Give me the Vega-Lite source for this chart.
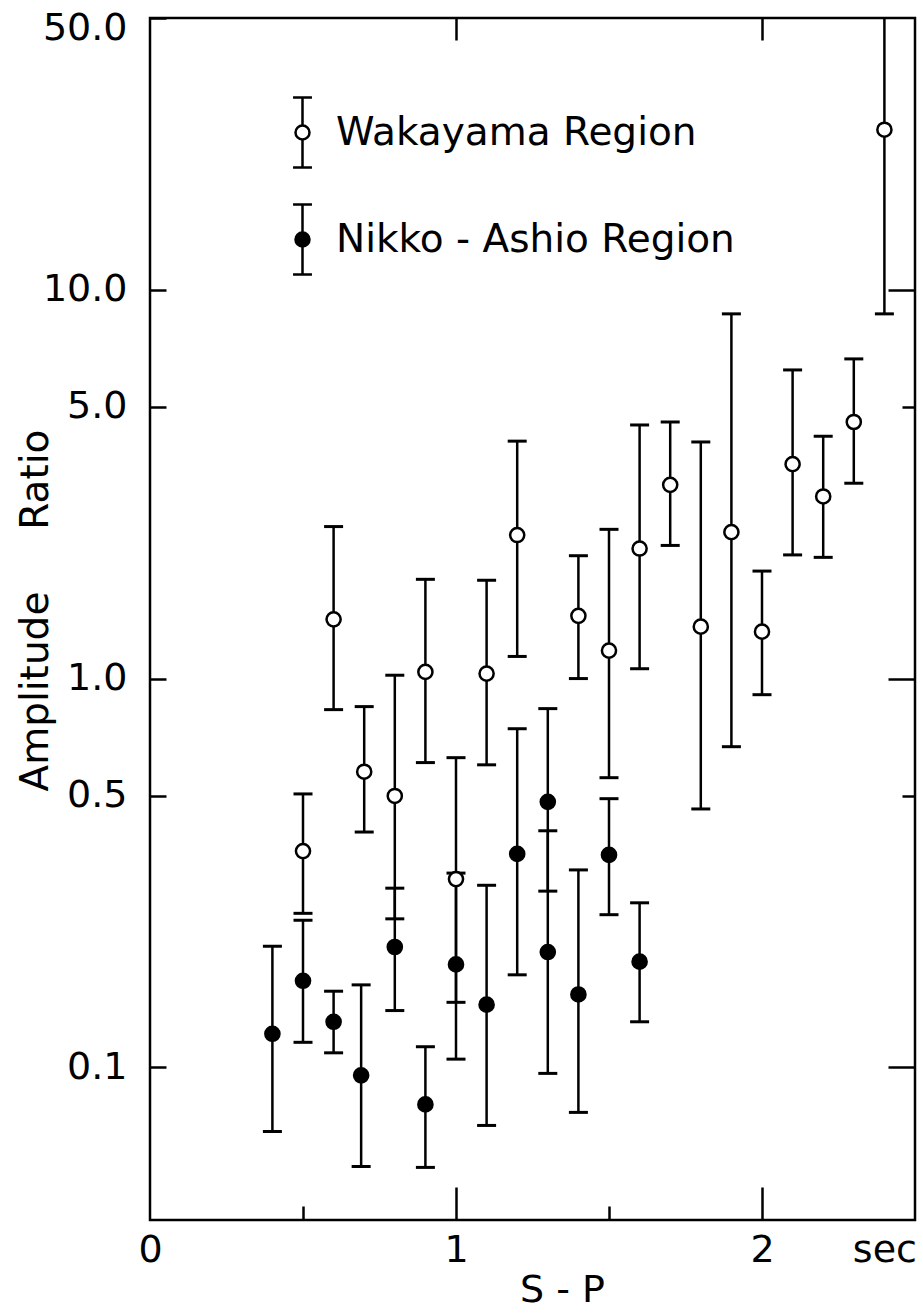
{
  "$schema": "https://vega.github.io/schema/vega-lite/v6.json",
  "width": 765,
  "height": 1202,
  "autosize": {"type": "none"},
  "padding": {"left": 150, "top": 18, "right": 8, "bottom": 93},
  "background": "white",
  "config": {
    "view": {"stroke": "black", "strokeWidth": 2.5},
    "axis": {
      "grid": false,
      "domain": false,
      "labelFont": "DejaVu Sans",
      "labelFontSize": 38,
      "labelColor": "black",
      "titleFont": "DejaVu Sans",
      "titleFontSize": 39,
      "titleFontWeight": "normal",
      "titleColor": "black",
      "tickColor": "black",
      "tickWidth": 2.5,
      "labelFlush": false,
      "labelOverlap": false,
      "labelBound": false
    },
    "legend": {
      "labelFont": "DejaVu Sans",
      "labelFontSize": 39,
      "labelColor": "black",
      "labelLimit": 1000
    }
  },
  "data": {
    "values": [
      {"region": "Wakayama Region", "sp": 0.5, "ratio": 0.360, "lo": 0.249, "hi": 0.505},
      {"region": "Wakayama Region", "sp": 0.6, "ratio": 1.42, "lo": 0.832, "hi": 2.46},
      {"region": "Wakayama Region", "sp": 0.7, "ratio": 0.576, "lo": 0.403, "hi": 0.847},
      {"region": "Wakayama Region", "sp": 0.8, "ratio": 0.499, "lo": 0.241, "hi": 1.02},
      {"region": "Wakayama Region", "sp": 0.9, "ratio": 1.04, "lo": 0.608, "hi": 1.80},
      {"region": "Wakayama Region", "sp": 1.0, "ratio": 0.305, "lo": 0.147, "hi": 0.626},
      {"region": "Wakayama Region", "sp": 1.1, "ratio": 1.03, "lo": 0.600, "hi": 1.79},
      {"region": "Wakayama Region", "sp": 1.2, "ratio": 2.34, "lo": 1.14, "hi": 4.08},
      {"region": "Wakayama Region", "sp": 1.4, "ratio": 1.45, "lo": 1.00, "hi": 2.07},
      {"region": "Wakayama Region", "sp": 1.5, "ratio": 1.18, "lo": 0.556, "hi": 2.42},
      {"region": "Wakayama Region", "sp": 1.6, "ratio": 2.16, "lo": 1.06, "hi": 4.49},
      {"region": "Wakayama Region", "sp": 1.7, "ratio": 3.15, "lo": 2.20, "hi": 4.57},
      {"region": "Wakayama Region", "sp": 1.8, "ratio": 1.36, "lo": 0.462, "hi": 4.06},
      {"region": "Wakayama Region", "sp": 1.9, "ratio": 2.38, "lo": 0.668, "hi": 8.67},
      {"region": "Wakayama Region", "sp": 2.0, "ratio": 1.32, "lo": 0.909, "hi": 1.89},
      {"region": "Wakayama Region", "sp": 2.1, "ratio": 3.56, "lo": 2.08, "hi": 6.22},
      {"region": "Wakayama Region", "sp": 2.2, "ratio": 2.94, "lo": 2.05, "hi": 4.20},
      {"region": "Wakayama Region", "sp": 2.3, "ratio": 4.57, "lo": 3.18, "hi": 6.64},
      {"region": "Wakayama Region", "sp": 2.4, "ratio": 25.8, "lo": 8.67, "hi": 77},
      {"region": "Nikko - Ashio Region", "sp": 0.4, "ratio": 0.122, "lo": 0.0684, "hi": 0.205},
      {"region": "Nikko - Ashio Region", "sp": 0.5, "ratio": 0.167, "lo": 0.116, "hi": 0.239},
      {"region": "Nikko - Ashio Region", "sp": 0.6, "ratio": 0.131, "lo": 0.109, "hi": 0.157},
      {"region": "Nikko - Ashio Region", "sp": 0.69, "ratio": 0.0954, "lo": 0.0556, "hi": 0.163},
      {"region": "Nikko - Ashio Region", "sp": 0.8, "ratio": 0.204, "lo": 0.140, "hi": 0.289},
      {"region": "Nikko - Ashio Region", "sp": 0.9, "ratio": 0.0803, "lo": 0.0553, "hi": 0.113},
      {"region": "Nikko - Ashio Region", "sp": 1.0, "ratio": 0.184, "lo": 0.105, "hi": 0.316},
      {"region": "Nikko - Ashio Region", "sp": 1.1, "ratio": 0.145, "lo": 0.0709, "hi": 0.294},
      {"region": "Nikko - Ashio Region", "sp": 1.2, "ratio": 0.354, "lo": 0.173, "hi": 0.743},
      {"region": "Nikko - Ashio Region", "sp": 1.3, "ratio": 0.482, "lo": 0.284, "hi": 0.837},
      {"region": "Nikko - Ashio Region", "sp": 1.3, "ratio": 0.198, "lo": 0.0965, "hi": 0.406},
      {"region": "Nikko - Ashio Region", "sp": 1.4, "ratio": 0.154, "lo": 0.0766, "hi": 0.322},
      {"region": "Nikko - Ashio Region", "sp": 1.5, "ratio": 0.352, "lo": 0.247, "hi": 0.491},
      {"region": "Nikko - Ashio Region", "sp": 1.6, "ratio": 0.187, "lo": 0.131, "hi": 0.265}
    ]
  },
  "resolve": {"axis": {"x": "independent", "y": "independent"}},
  "layer": [
    {
      "mark": {"type": "rule", "color": "black", "strokeWidth": 2.5, "clip": true},
      "encoding": {
        "x": {"field": "sp", "type": "quantitative",
              "scale": {"domain": [0, 2.5], "nice": false, "zero": false},
              "axis": {"orient": "bottom", "values": [0, 1, 2, 2.4], "ticks": false, "labelPadding": 30, "labelBaseline": "middle",
                       "labelExpr": "datum.value == 2.4 ? 'sec' : format(datum.value, 'd')",
                       "title": "S - P", "titleX": 412, "titleY": 70, "titleFontSize": 38, "titleBaseline": "middle", "titleAlign": "center"}},
        "y": {"field": "lo", "type": "quantitative",
              "scale": {"type": "log", "domain": [0.0405, 50], "nice": false},
              "axis": {"orient": "left", "values": [0.1, 0.5, 1, 5, 10, 50], "ticks": false, "labelPadding": 23, "format": ".1f",
                       "labelOffset": {"condition": {"test": "datum.value == 50", "value": 10}, "value": 0},
                       "title": "Amplitude\u00a0\u00a0\u00a0\u00a0 Ratio", "titleX": -115, "titleY": 592, "titleBaseline": "middle", "titleAlign": "center", "titleAngle": -90}},
        "y2": {"field": "hi"}
      }
    },
    {
      "mark": {"type": "tick", "orient": "horizontal", "color": "black", "size": 19, "thickness": 3, "opacity": 1, "clip": true},
      "encoding": {
        "x": {"field": "sp", "type": "quantitative",
              "axis": {"orient": "bottom", "values": [1, 2], "labels": false, "tickSize": -33, "title": null}},
        "y": {"field": "lo", "type": "quantitative",
              "axis": {"orient": "left", "values": [0.1, 0.5, 1, 5, 10, 50], "labels": false, "tickSize": -16, "title": null}}
      }
    },
    {
      "mark": {"type": "tick", "orient": "horizontal", "color": "black", "size": 19, "thickness": 3, "opacity": 1, "clip": true},
      "encoding": {
        "x": {"field": "sp", "type": "quantitative",
              "axis": {"orient": "bottom", "values": [0.5, 1.5], "labels": false, "tickSize": -14, "title": null}},
        "y": {"field": "hi", "type": "quantitative",
              "axis": {"orient": "right", "values": [0.1, 1, 10], "labels": false, "tickSize": -27, "title": null}}
      }
    },
    {
      "mark": {"type": "point", "shape": "circle", "filled": true, "stroke": "black", "strokeWidth": 2.5, "size": 200, "opacity": 1, "clip": true},
      "encoding": {
        "x": {"field": "sp", "type": "quantitative",
              "axis": {"orient": "top", "values": [1, 2], "labels": false, "tickSize": -22, "title": null}},
        "y": {"field": "ratio", "type": "quantitative",
              "axis": {"orient": "right", "values": [0.5, 5], "labels": false, "tickSize": -13, "title": null}},
        "fill": {"field": "region", "type": "nominal",
                 "scale": {"domain": ["Wakayama Region", "Nikko - Ashio Region"], "range": ["white", "black"]},
                 "legend": {"orient": "none", "legendX": 116, "legendY": 78, "title": null, "padding": 0,
                            "symbolType": "M0,-1L0,-0.2M0,0.2L0,1M-0.27,-1L0.27,-1M-0.27,1L0.27,1M0.2,0A0.2,0.2,0,1,1,-0.2,0A0.2,0.2,0,1,1,0.2,0Z",
                            "symbolSize": 4900, "symbolStrokeColor": "black", "symbolStrokeWidth": 2.5, "symbolOpacity": 1,
                            "labelOffset": -3, "rowPadding": 26}}
      }
    }
  ]
}
